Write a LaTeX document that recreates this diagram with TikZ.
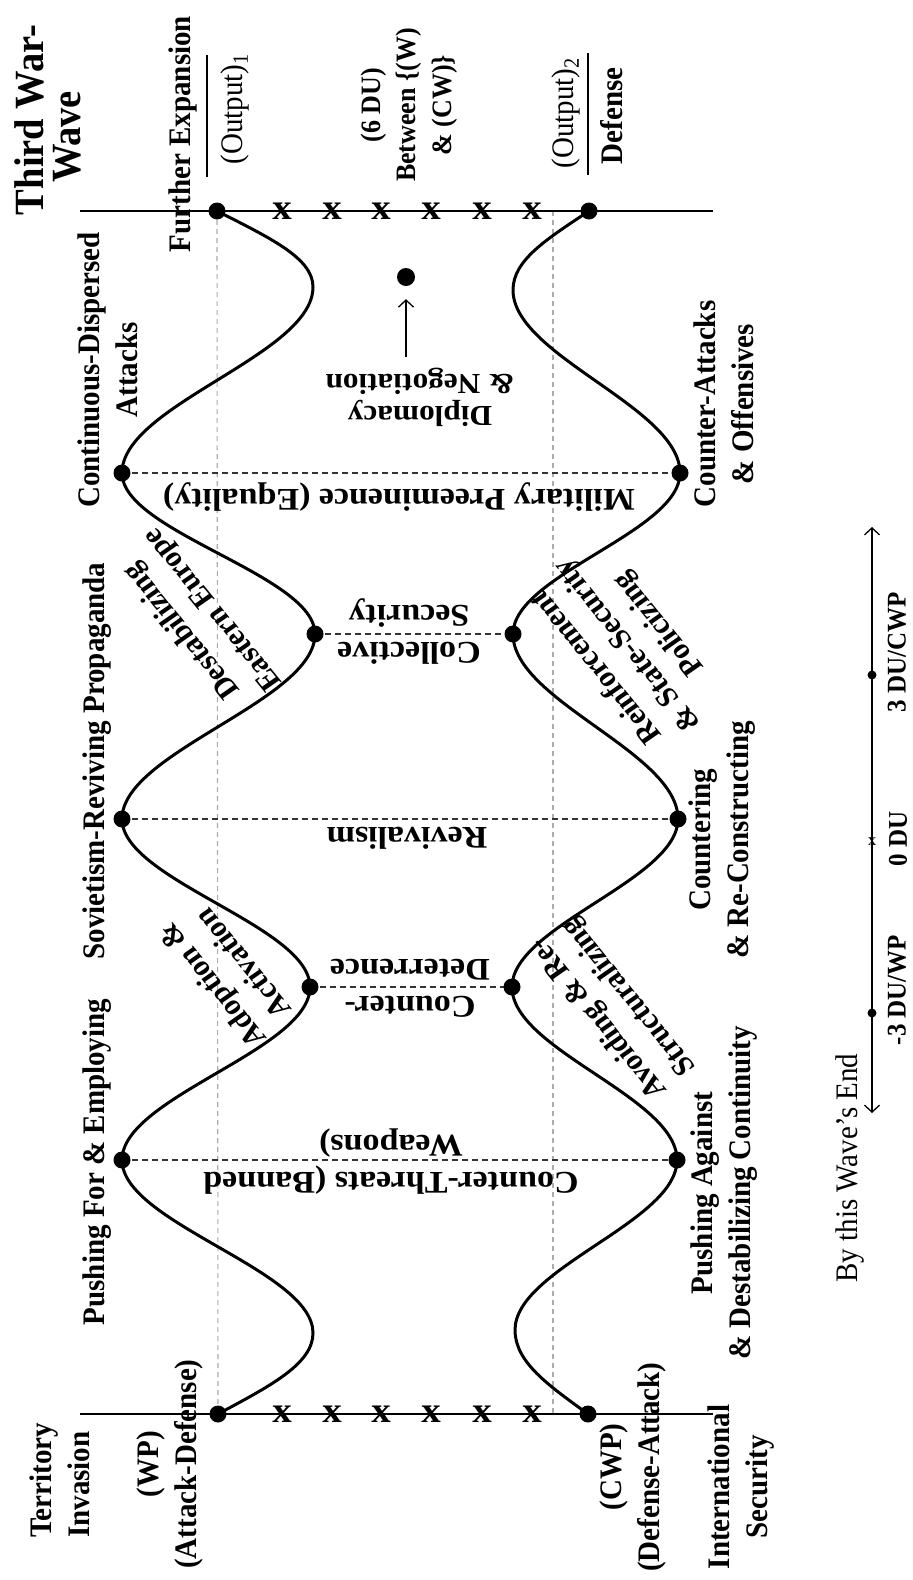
\documentclass[tikz,border=0pt]{standalone}
\usepackage{fontspec}
\setmainfont{Liberation Serif}
\usetikzlibrary{arrows.meta}
\begin{document}
\begin{tikzpicture}[x=1pt,y=-1pt,
  outer/.style={inner sep=0pt, align=center, xscale=1.08, font=\fontsize{29}{35}\selectfont\bfseries, rotate=90},
  plain/.style={inner sep=0pt, align=center, xscale=1.08, font=\fontsize{29}{35}\selectfont, rotate=90},
  inner/.style={inner sep=0pt, align=center, xscale=1.08, font=\fontsize{31.5}{37}\selectfont\bfseries, rotate=180},
  diag/.style={inner sep=0pt, align=center, xscale=1.08, font=\fontsize{29}{36}\selectfont\bfseries, rotate=127},
  dot/.style={circle, fill=black, inner sep=0pt, minimum size=17pt},
  smalldot/.style={circle, fill=black, inner sep=0pt, minimum size=9pt},
  xmark/.style={inner sep=0pt, xscale=1.08, font=\fontsize{36}{36}\selectfont\bfseries},
  wave/.style={line width=3pt},
  guide/.style={gray!65, line width=1.1pt, dash pattern=on 5pt off 4pt},
  link/.style={black!80, line width=1.4pt, dash pattern=on 6pt off 4pt},
  barb/.tip={Straight Barb[length=7pt,width=15pt]}
]
\fill[white] (0,0) rectangle (913,1580);
\useasboundingbox (0,0) rectangle (913,1580);

% base lines and guide coordinates
\coordinate (tl) at (80,211);   \coordinate (tr) at (713,211);
\coordinate (bl) at (80,1414);  \coordinate (br) at (713,1414);
\coordinate (gt) at (553,211);  \coordinate (gb) at (553,1414);

% turning points of the two waves
\path (217,211) coordinate (l0) (313,287) coordinate (l1) (122,473) coordinate (l2)
      (315,634) coordinate (l3) (122,819) coordinate (l4) (310,987) coordinate (l5)
      (122,1160) coordinate (l6) (313,1333) coordinate (l7) (218,1414) coordinate (l8);
\path (589,211) coordinate (r0) (513,290) coordinate (r1) (680,473) coordinate (r2)
      (513,634) coordinate (r3) (678,819) coordinate (r4) (512,987) coordinate (r5)
      (677,1160) coordinate (r6) (515,1330) coordinate (r7) (588,1414) coordinate (r8);

% dashed guides
\draw[guide] (l0) -- (l8);
\draw[guide] (gt) -- (gb);
\draw[link] (l2) -- (r2);
\draw[link] (l3) -- (r3);
\draw[link] (l4) -- (r4);
\draw[link] (l5) -- (r5);
\draw[link] (l6) -- (r6);

\draw[line width=1.6pt] (tl) -- (tr);
\draw[line width=1.6pt] (bl) -- (br);

% the waves
\draw[wave] (l0) .. controls +(53,27) and +(0,-29) .. (l1)
  .. controls +(0,68) and +(0,-68) .. (l2)
  .. controls +(0,59) and +(0,-59) .. (l3)
  .. controls +(0,67) and +(0,-67) .. (l4)
  .. controls +(0,61) and +(0,-61) .. (l5)
  .. controls +(0,63) and +(0,-63) .. (l6)
  .. controls +(0,63) and +(0,-63) .. (l7)
  .. controls +(0,31) and +(52,-28) .. (l8);
\draw[wave] (r0) .. controls +(-42,28) and +(0,-30) .. (r1)
  .. controls +(0,66) and +(0,-66) .. (r2)
  .. controls +(0,59) and +(0,-59) .. (r3)
  .. controls +(0,67) and +(0,-67) .. (r4)
  .. controls +(0,61) and +(0,-61) .. (r5)
  .. controls +(0,63) and +(0,-63) .. (r6)
  .. controls +(0,62) and +(0,-62) .. (r7)
  .. controls +(0,32) and +(-40,-29) .. (r8);

\foreach \p in {l0,l2,l3,l4,l5,l6,l8,r0,r2,r3,r4,r5,r6,r8}
  \node[dot] (d\p) at (\p) {};

\foreach \xx [count=\i] in {282,332,381,431,482,532} {
  \node[xmark] (xt\i) at (\xx,211) {x};
  \node[xmark] (xb\i) at (\xx,1414) {x};
}

% diplomacy point
\node[dot, minimum size=18pt] (dip) at (406,277) {};
\coordinate (dipfrom) at (406,357);
\draw[line width=1.3pt, -barb, shorten >=13pt] (dipfrom) -- (dip);

% outer labels
\node[outer, font=\fontsize{38.5}{34.5}\selectfont\bfseries] (title) at (48,120) {Third War-\\Wave\hspace*{34pt}};
\node[outer] (furth) at (183,134) {Further Expansion};
\coordinate (b1a) at (207,55); \coordinate (b1b) at (207,177);
\draw[line width=1.6pt] (b1a) -- (b1b);
\node[plain] (out1) at (235,109) {(Output)\textsubscript{1}};
\node[outer, font=\fontsize{26}{33}\selectfont\bfseries] (sixdu) at (409,105) {(6 DU)\\Between \{(W)\\\& (CW)\}};
\node[plain] (out2) at (566,113) {(Output)\textsubscript{2}};
\coordinate (b2a) at (588,53); \coordinate (b2b) at (588,175);
\draw[line width=1.6pt] (b2a) -- (b2b);
\node[outer] (defn) at (612,116) {Defense};

\node[outer] (cont) at (108,370) {Continuous-Dispersed\\Attacks};
\node[outer] (sov) at (97,761) {Sovietism-Reviving Propaganda};
\node[outer] (pushf) at (97,1162) {Pushing For \& Employing};
\node[outer, align=left, anchor=west] (terr) at (60,1538) {Territory\\Invasion};
\node[outer] (wp) at (170,1464) {(WP)\\(Attack-Defense)};
\node[outer] (cwp) at (633,1467) {(CWP)\\(Defense-Attack)};
\node[outer] (intl) at (741,1487) {International\\Security};
\node[outer] (catt) at (724,404) {Counter-Attacks\\\& Offensives};
\node[outer] (cntr) at (722,840) {Countering\\\& Re-Constructing};
\node[outer] (pusha) at (724,1193) {Pushing Against\\\& Destabilizing Continuity};

% inner labels
\node[inner, font=\fontsize{29}{32}\selectfont\bfseries] (diplab) at (420,397) {Diplomacy\\\& Negotiation};
\node[inner] (mil) at (399,497) {Military Preeminence (Equality)};
\node[inner] (coll) at (409,632) {Collective\\Security};
\node[inner] (rev) at (407,838) {Revivalism};
\node[inner] (cdet) at (410,988) {Counter-\\Deterrence};
\node[inner] (cthr) at (391,1162) {Counter-Threats (Banned\\Weapons)};

% labels along the slopes
\node[diag] (destab) at (198,620) {Destabilizing\\Eastern Europe};
\node[diag] (adopt) at (227,975) {Adoption \&\\Activation};
\node[diag] (avoid) at (614,1007) {Avoiding \& Re-\\Structuralizing};
\node[diag] (reinf) at (628,645) {Reinforcement\\\& State-Security\\Policizing};

% scale of the wave's end
\coordinate (atop) at (872,527);
\coordinate (abot) at (872,1113);
\draw[line width=1.3pt, barb-barb] (abot) -- (atop);
\node[smalldot] (ap) at (872,675) {};
\node[smalldot] (am) at (872,1013) {};
\node[inner sep=0pt, font=\fontsize{17}{17}\selectfont] (az) at (872,842) {x};
\node[outer, font=\fontsize{25}{30}\selectfont\bfseries] (lp) at (897,652) {3 DU/CWP};
\node[outer, font=\fontsize{25}{30}\selectfont\bfseries] (lz) at (898,839) {0 DU};
\node[outer, font=\fontsize{25}{30}\selectfont\bfseries] (lm) at (897,990) {-3 DU/WP};
\node[plain] (bythis) at (850,1168) {By this Wave’s End};
\end{tikzpicture}
\end{document}
